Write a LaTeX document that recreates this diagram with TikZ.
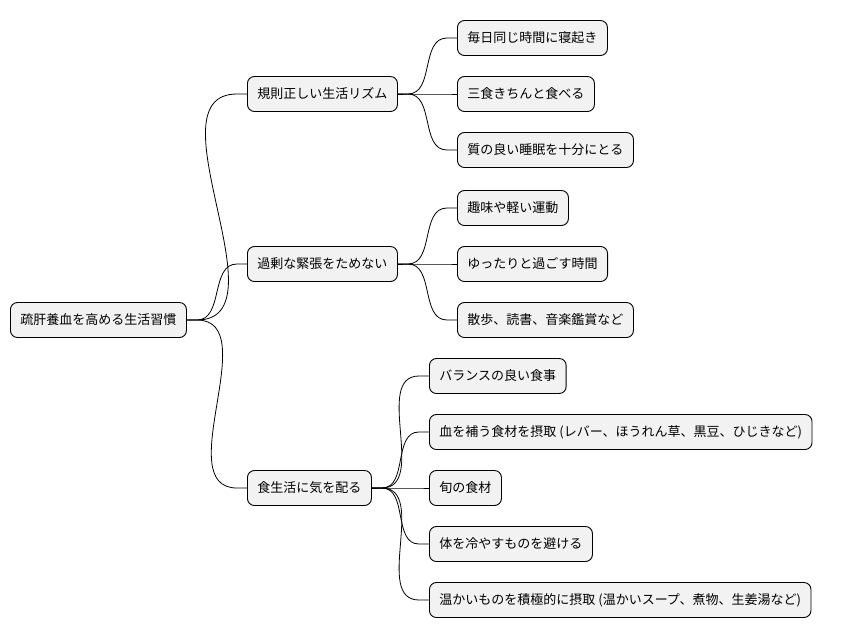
\documentclass[tikz,border=0pt]{standalone}
\usepackage{fontspec}
\setmainfont{Noto Sans CJK JP}
\usetikzlibrary{calc}
\begin{document}
\begin{tikzpicture}[x=1pt,y=-1pt,
  box/.style={draw=black,line width=0.9pt,fill=gray!10,rounded corners=7pt,minimum height=35pt,inner xsep=10pt,anchor=west,font=\fontsize{13pt}{15pt}\selectfont},
  con/.style={line width=0.8pt}]
\useasboundingbox (0,0) rectangle (854,640);
\node[box] (r) at (10,320) {疏肝養血を高める生活習慣};
\node[box] (a) at (247,94) {規則正しい生活リズム};
\node[box] (b) at (247,264) {過剰な緊張をためない};
\node[box] (c) at (247,488) {食生活に気を配る};
\node[box] (a1) at (457,38) {毎日同じ時間に寝起き};
\node[box] (a2) at (457,94) {三食きちんと食べる};
\node[box] (a3) at (457,150) {質の良い睡眠を十分にとる};
\node[box] (b1) at (457,208) {趣味や軽い運動};
\node[box] (b2) at (457,264) {ゆったりと過ごす時間};
\node[box] (b3) at (457,320) {散歩、読書、音楽鑑賞など};
\node[box] (c1) at (429,376) {バランスの良い食事};
\node[box] (c2) at (429,432) {血を補う食材を摂取 (レバー、ほうれん草、黒豆、ひじきなど)};
\node[box] (c3) at (429,488) {旬の食材};
\node[box] (c4) at (429,544) {体を冷やすものを避ける};
\node[box] (c5) at (429,600) {温かいものを積極的に摂取 (温かいスープ、煮物、生姜湯など)};
\foreach \p/\c in {r/a,r/b,r/c,a/a1,a/a2,a/a3,b/b1,b/b2,b/b3,c/c1,c/c2,c/c3,c/c4,c/c5}{
  \draw[con] (\p.east) -- ++(10,0) to[out=0,in=180] ($(\c.west)+(-10,0)$) -- (\c.west);
}
\end{tikzpicture}
\end{document}
